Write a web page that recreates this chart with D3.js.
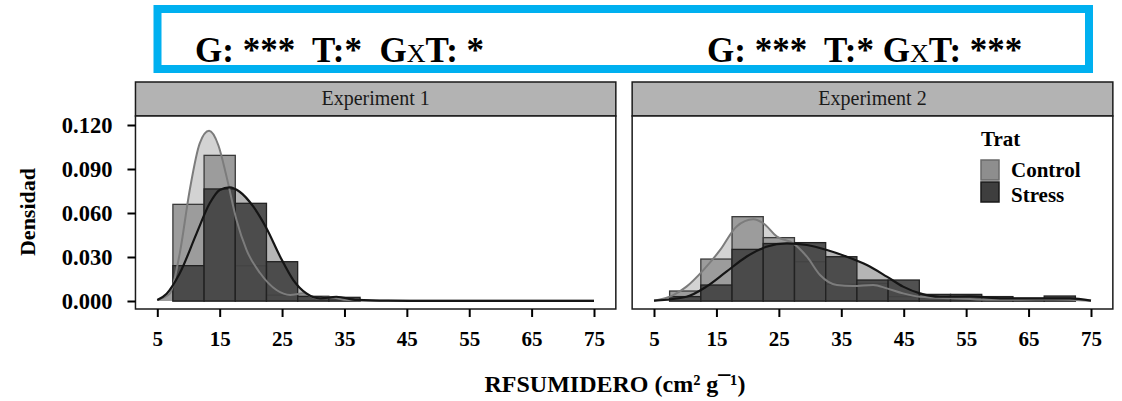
<!DOCTYPE html>
<html>
<head>
<meta charset="utf-8">
<script src="https://cdn.jsdelivr.net/npm/d3@7"></script>
<style>
  body { margin: 0; background: #fff; }
  svg { display: block; }
  text { font-family: "Liberation Serif", "Times New Roman", serif; }
</style>
</head>
<body>
<svg id="chart" width="1122" height="401"></svg>
<script>
// Histogram bins (lower edges, width 5) and densities per experiment
const binWidth = 5;
const binsExp1 = [7.5, 12.5, 17.5, 22.5, 27.5, 32.5];
const exp1Control = [0.0659, 0.0993, 0.0240, 0.0040, 0.0028, 0.0012];
const exp1Stress  = [0.0241, 0.0764, 0.0666, 0.0268, 0.0032, 0.0025];

const binsExp2 = [7.5, 12.5, 17.5, 22.5, 27.5, 32.5, 37.5, 42.5, 47.5, 52.5, 57.5, 62.5, 67.5];
const exp2Control = [0.0068, 0.0286, 0.0575, 0.0432, 0.0268, 0.0114, 0.0120, 0.0030, 0.0022, 0.0020, 0.0010, 0.0005, 0.0010];
const exp2Stress  = [0.0030, 0.0109, 0.0352, 0.0392, 0.0398, 0.0302, 0.0143, 0.0143, 0.0045, 0.0045, 0.0030, 0.0018, 0.0034];

// Kernel density curves [x, density]
const densExp1Control = [[5,0.0007],[7,0.005],[8.6,0.0325],[10.2,0.0757],[11.8,0.1075],[13.3,0.116],[14.8,0.106],[16.1,0.0848],[17.7,0.0552],[19.3,0.0348],[21.5,0.0189],[24.1,0.0075],[26.3,0.0041],[28.4,0.0052],[30.5,0.0018],[32.7,0.0025],[35.4,0.0007],[40,0.0002],[50,0.0001],[60,0.0001],[75,0.0001]];
const densExp1Stress = [[5,0.0007],[6.5,0.005],[8.6,0.0189],[11.3,0.0461],[13.4,0.0666],[15,0.0757],[16.6,0.0775],[18.2,0.0745],[20.4,0.0643],[22.5,0.0496],[24.7,0.0302],[26.8,0.0143],[28.9,0.0052],[31.1,0.0018],[33.7,0.0029],[37,0.0007],[42,0.0002],[50,0.0001],[60,0.0001],[75,0.0001]];
const densExp2Control = [[5,0.0002],[8.1,0.004],[10.2,0.0098],[12.9,0.0211],[15.6,0.0348],[18.2,0.0507],[20.9,0.0557],[22.5,0.053],[24.7,0.0439],[27.3,0.0393],[29.5,0.0302],[31.6,0.0177],[34.3,0.0109],[36.9,0.0102],[40.1,0.0109],[42.3,0.0086],[44.9,0.0052],[47.6,0.0029],[52.9,0.0018],[58.3,0.0009],[63.6,0.0009],[68.9,0.001],[75,0.0002]];
const densExp2Stress = [[5,0.0002],[10.2,0.0029],[13.4,0.0098],[16.6,0.02],[19.8,0.0302],[23,0.037],[26.3,0.0393],[29.5,0.0382],[32.7,0.0348],[35.9,0.0302],[39.1,0.0245],[42.3,0.0166],[44.9,0.0098],[47.6,0.0052],[50.8,0.0029],[55.6,0.0032],[61,0.0018],[66.3,0.0018],[71.6,0.0018],[75,0.0002]];

const xTicks = [5, 15, 25, 35, 45, 55, 65, 75];
const yTicks = [0, 0.03, 0.06, 0.09, 0.12];
const panelTitles = ["Experiment 1", "Experiment 2"];
const effectLabels = ["G: ***  T:*  G", "G: ***  T:* G"];
const effectTails = [": *", ": ***"];
const legendTitle = "Trat";
const groups = ["Control", "Stress"];

const svg = d3.select("#chart");

// Significance banner
svg.append("rect")
  .attr("x", 157.5).attr("y", 9).attr("width", 931.5).attr("height", 60)
  .attr("fill", "none").attr("stroke", "#00b0f0").attr("stroke-width", 8);

[195, 707].forEach((x0, i) => {
  const t = svg.append("text")
    .attr("x", x0).attr("y", 62)
    .attr("font-size", 35).attr("font-weight", "bold").attr("fill", "#000")
    .attr("xml:space", "preserve")
    .style("white-space", "pre");
  t.append("tspan").text(effectLabels[i]);
  t.append("tspan").attr("font-size", 26).attr("font-weight", "normal").text("X");
  t.append("tspan").text("T" + effectTails[i]);
});

const y = d3.scaleLinear().domain([0, 0.12]).range([301, 125]);
const panelTop = 116, panelBottom = 309, stripTop = 82;

const panels = [
  { range: [157.3, 594], bins: binsExp1, ctrl: exp1Control, str: exp1Stress, dc: densExp1Control, ds: densExp1Stress },
  { range: [654, 1091], bins: binsExp2, ctrl: exp2Control, str: exp2Stress, dc: densExp2Control, ds: densExp2Stress }
];

const colors = {
  ctrlBar: "#9c9c9c", ctrlBarStroke: "#3a3a3a",
  strBar: "#444444", strBarStroke: "#222222",
  ctrlArea: "#a8a8a8", strArea: "#5a5a5a",
  ctrlLine: "#7c7c7c", strLine: "#151515"
};

panels.forEach((p, i) => {
  const x = d3.scaleLinear().domain([5, 75]).range(p.range);
  const left = x(1.5), right = x(78.5);
  const g = svg.append("g");

  // strip
  g.append("rect")
    .attr("x", left).attr("y", stripTop).attr("width", right - left).attr("height", panelTop - stripTop)
    .attr("fill", "#b3b3b3").attr("stroke", "#1a1a1a").attr("stroke-width", 1.5);
  g.append("text")
    .attr("x", (left + right) / 2).attr("y", 105)
    .attr("text-anchor", "middle").attr("font-size", 20).attr("fill", "#1a1a1a")
    .text(panelTitles[i]);

  // panel background
  g.append("rect")
    .attr("x", left).attr("y", panelTop).attr("width", right - left).attr("height", panelBottom - panelTop)
    .attr("fill", "#fff");

  const clip = "clip" + i;
  svg.append("clipPath").attr("id", clip).append("rect")
    .attr("x", left).attr("y", panelTop).attr("width", right - left).attr("height", panelBottom - panelTop);
  const plot = g.append("g").attr("clip-path", `url(#${clip})`);

  const area = d3.area().curve(d3.curveMonotoneX).x(d => x(d[0])).y0(y(0)).y1(d => y(d[1]));
  const line = d3.line().curve(d3.curveMonotoneX).x(d => x(d[0])).y(d => y(d[1]));

  plot.append("path").attr("d", area(p.dc)).attr("fill", colors.ctrlArea).attr("fill-opacity", 0.5);
  plot.append("path").attr("d", area(p.ds)).attr("fill", colors.strArea).attr("fill-opacity", 0.45);

  plot.selectAll(".bc").data(p.bins.map((b, k) => ({ b, v: p.ctrl[k] }))).join("rect")
    .attr("x", d => x(d.b)).attr("width", d => x(d.b + binWidth) - x(d.b))
    .attr("y", d => y(d.v)).attr("height", d => y(0) - y(d.v))
    .attr("fill", colors.ctrlBar).attr("stroke", colors.ctrlBarStroke).attr("stroke-width", 1.3);
  plot.selectAll(".bs").data(p.bins.map((b, k) => ({ b, v: p.str[k] }))).join("rect")
    .attr("x", d => x(d.b)).attr("width", d => x(d.b + binWidth) - x(d.b))
    .attr("y", d => y(d.v)).attr("height", d => y(0) - y(d.v))
    .attr("fill", colors.strBar).attr("fill-opacity", 0.93)
    .attr("stroke", colors.strBarStroke).attr("stroke-width", 1.3);

  plot.append("path").attr("d", line(p.dc)).attr("fill", "none").attr("stroke", colors.ctrlLine).attr("stroke-width", 2);
  plot.append("path").attr("d", line(p.ds)).attr("fill", "none").attr("stroke", colors.strLine).attr("stroke-width", 2.2);

  // panel border
  g.append("rect")
    .attr("x", left).attr("y", panelTop).attr("width", right - left).attr("height", panelBottom - panelTop)
    .attr("fill", "none").attr("stroke", "#1a1a1a").attr("stroke-width", 1.5);

  // x axis
  const xAxis = d3.axisBottom(x).tickValues(xTicks).tickSize(8).tickPadding(14).tickFormat(d3.format("d"));
  const ax = g.append("g").attr("transform", `translate(0,${panelBottom})`).call(xAxis);
  ax.select(".domain").remove();
  ax.selectAll(".tick line").attr("stroke", "#000").attr("stroke-width", 2);
  ax.selectAll(".tick text").attr("font-family", "Liberation Serif").attr("font-weight", "bold")
    .attr("font-size", 21).attr("fill", "#000");

  if (i === 0) {
    const yAxis = d3.axisLeft(y).tickValues(yTicks).tickSize(8).tickPadding(15).tickFormat(d3.format(".3f"));
    const ay = g.append("g").attr("transform", `translate(${left},0)`).call(yAxis);
    ay.select(".domain").remove();
    ay.selectAll(".tick line").attr("stroke", "#000").attr("stroke-width", 2);
    ay.selectAll(".tick text").attr("font-family", "Liberation Serif").attr("font-weight", "bold")
      .attr("font-size", 22.5).attr("fill", "#000");
  } else {
    // legend
    const lg = g.append("g");
    lg.append("text").attr("x", 981).attr("y", 146).attr("font-size", 21).attr("font-weight", "bold").text(legendTitle);
    const keyFill = ["#8e8e8e", "#3e3e3e"];
    const keyStroke = ["#6a6a6a", "#1a1a1a"];
    groups.forEach((name, k) => {
      lg.append("rect").attr("x", 981).attr("y", 160 + k * 22).attr("width", 18).attr("height", 20)
        .attr("fill", keyFill[k]).attr("stroke", keyStroke[k]).attr("stroke-width", 1.5);
      lg.append("text").attr("x", 1011).attr("y", 177 + k * 24.5).attr("font-size", 21)
        .attr("font-weight", "bold").text(name);
    });
  }
});

// axis titles
svg.append("text")
  .attr("x", 615).attr("y", 392).attr("text-anchor", "middle")
  .attr("font-size", 24).attr("font-weight", "bold").text("RFSUMIDERO (cm² g¯¹)");
svg.append("text")
  .attr("transform", "translate(35,212) rotate(-90)").attr("text-anchor", "middle")
  .attr("font-size", 22).attr("font-weight", "bold").text("Densidad");
</script>
</body>
</html>
